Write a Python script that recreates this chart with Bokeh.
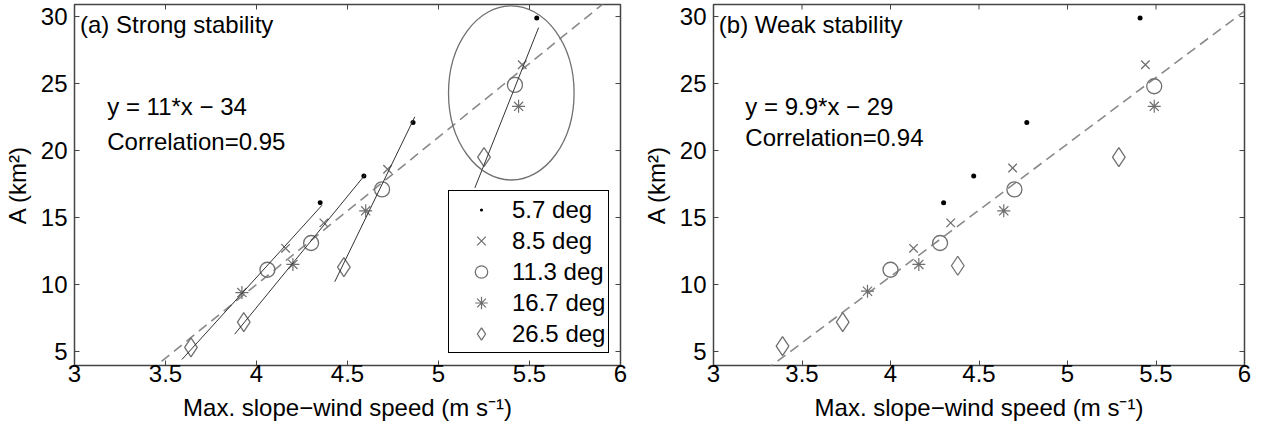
import numpy as np
from bokeh.plotting import figure
from bokeh.models import (Range1d, FixedTicker, NumeralTickFormatter,
                          Legend, LegendItem, Label)
from bokeh.layouts import row
from bokeh.embed import file_html
from bokeh.resources import INLINE

# ---------------- data ----------------
angles = ["5.7 deg", "8.5 deg", "11.3 deg", "16.7 deg", "26.5 deg"]

# (a) Strong stability: max slope-wind speed (m/s) and area A (km2)
strong_x_57 = [4.35, 4.59, 4.86, 5.54]
strong_y_57 = [16.1, 18.1, 22.1, 29.9]
strong_x_85 = [4.16, 4.37, 4.72, 5.46]
strong_y_85 = [12.7, 14.6, 18.6, 26.4]
strong_x_113 = [4.06, 4.30, 4.69, 5.42]
strong_y_113 = [11.1, 13.1, 17.1, 24.9]
strong_x_167 = [3.92, 4.20, 4.60, 5.44]
strong_y_167 = [9.4, 11.5, 15.5, 23.3]
strong_x_265 = [3.64, 3.93, 4.48, 5.25]
strong_y_265 = [5.3, 7.2, 11.3, 19.5]

# (b) Weak stability
weak_x_57 = [4.30, 4.47, 4.77, 5.41]
weak_y_57 = [16.1, 18.1, 22.1, 29.9]
weak_x_85 = [4.13, 4.34, 4.69, 5.44]
weak_y_85 = [12.7, 14.6, 18.7, 26.4]
weak_x_113 = [4.00, 4.28, 4.70, 5.49]
weak_y_113 = [11.1, 13.1, 17.1, 24.8]
weak_x_167 = [3.87, 4.16, 4.64, 5.49]
weak_y_167 = [9.5, 11.5, 15.5, 23.3]
weak_x_265 = [3.39, 3.73, 4.38, 5.29]
weak_y_265 = [5.4, 7.2, 11.4, 19.5]

# overall linear fits (slope, intercept) and correlations
fit_strong = [11.0, -34.0]
fit_weak = [9.9, -29.0]
corr_strong = "0.95"
corr_weak = "0.94"

# highlighted group ellipse (centre x, centre y, width, height) in data units
ellipse_strong = [5.40, 24.3, 0.69, 13.0]

x_ticks = [3, 3.5, 4, 4.5, 5, 5.5, 6]
y_ticks = [5, 10, 15, 20, 25, 30]

strong_x = [strong_x_57, strong_x_85, strong_x_113, strong_x_167, strong_x_265]
strong_y = [strong_y_57, strong_y_85, strong_y_113, strong_y_167, strong_y_265]
weak_x = [weak_x_57, weak_x_85, weak_x_113, weak_x_167, weak_x_265]
weak_y = [weak_y_57, weak_y_85, weak_y_113, weak_y_167, weak_y_265]

# ---------------- styles ----------------
FONT = "Liberation Sans"
FS = "24px"
GRAY = "#707070"
AX = "#444444"
X0, X1 = 3.0, 6.0
Y0, Y1 = 3.955, 30.9
FRAME_H = 361
TICK = 5  # px, inward

marker_styles = [
    dict(marker="dot", size=20, line_color="black", fill_color="black"),
    dict(marker="x", size=12, fill_color=None, line_color=GRAY, line_width=1.3),
    dict(marker="circle", size=15, fill_color=None, line_color=GRAY, line_width=1.3),
    dict(marker="asterisk", size=13, fill_color=None, line_color=GRAY, line_width=1.2),
    dict(marker="diamond", size=19, fill_color=None, line_color=GRAY, line_width=1.3),
]


def make_panel(xs, ys, fit, corr, title, frame_w, border_l, border_r, corr_y):
    p = figure(frame_width=frame_w, frame_height=FRAME_H, output_backend="svg",
               toolbar_location=None, x_range=Range1d(X0, X1), y_range=Range1d(Y0, Y1),
               min_border_left=border_l, min_border_right=border_r,
               min_border_top=4, min_border_bottom=10)
    p.background_fill_color = "white"
    p.border_fill_color = "white"
    p.xgrid.visible = False
    p.ygrid.visible = False
    p.outline_line_color = AX
    p.outline_line_width = 1.5

    for ax in p.xaxis + p.yaxis:
        ax.axis_line_color = None
        ax.major_tick_in = TICK
        ax.major_tick_out = 0
        ax.minor_tick_line_color = None
        ax.major_tick_line_color = AX
        ax.major_label_text_font = FONT
        ax.major_label_text_font_size = FS
        ax.major_label_text_color = "black"
        ax.axis_label_text_font = FONT
        ax.axis_label_text_font_size = FS
        ax.axis_label_text_font_style = "normal"
        ax.axis_label_text_color = "black"
        ax.formatter = NumeralTickFormatter(format="0.[0]")
    p.xaxis.ticker = FixedTicker(ticks=x_ticks)
    p.yaxis.ticker = FixedTicker(ticks=y_ticks)
    p.xaxis.axis_label = "Max. slope\u2212wind speed (m s\u207b\u00b9)"
    p.yaxis.axis_label = "A (km\u00b2)"
    p.xaxis.major_label_standoff = -1
    p.xaxis.axis_label_standoff = 9
    p.yaxis.major_label_standoff = 7
    p.yaxis.axis_label_standoff = 7

    # mirrored inner ticks on the top and right edges of the box
    dy = TICK * (Y1 - Y0) / FRAME_H
    dx = TICK * (X1 - X0) / frame_w
    p.segment(x0=x_ticks, y0=[Y1] * len(x_ticks), x1=x_ticks, y1=[Y1 - dy] * len(x_ticks),
              line_color=AX, line_width=1)
    p.segment(x0=[X1] * len(y_ticks), y0=y_ticks, x1=[X1 - dx] * len(y_ticks), y1=y_ticks,
              line_color=AX, line_width=1)

    # overall fit (dashed)
    fx = np.array([X0, X1])
    p.line(fx, fit[0] * fx + fit[1], line_color="#8a8a8a", line_width=1.6, line_dash="10 6")

    renderers = []
    for i in range(len(angles)):
        r = p.scatter(xs[i], ys[i], **marker_styles[i])
        renderers.append(r)

    lbl = dict(text_font=FONT, text_font_size=FS, text_color="black", text_baseline="middle")
    p.add_layout(Label(x=3.03, y=29.4, text=title, **lbl))
    sign = "\u2212" if fit[1] < 0 else "+"
    p.add_layout(Label(x=3.18, y=23.3, text="y = %g*x %s %g" % (fit[0], sign, abs(fit[1])), **lbl))
    p.add_layout(Label(x=3.18, y=corr_y, text="Correlation=%s" % corr, **lbl))
    return p, renderers


p1, rs1 = make_panel(strong_x, strong_y, fit_strong, corr_strong, "(a) Strong stability",
                     546, 74, 19, 20.7)
p2, rs2 = make_panel(weak_x, weak_y, fit_weak, corr_weak, "(b) Weak stability",
                     531, 72, 12, 21.0)

# group regression lines in panel (a)
for j in range(len(strong_x_57)):
    gx = np.array([strong_x[i][j] for i in range(len(angles))])
    gy = np.array([strong_y[i][j] for i in range(len(angles))])
    a, b = np.polyfit(gx, gy, 1)
    lx = np.array([gx.min() - 0.05, gx.max() + 0.01])
    p1.line(lx, a * lx + b, line_color="#333333", line_width=1)

# ellipse around the strongest group
p1.ellipse(x=[ellipse_strong[0]], y=[ellipse_strong[1]], width=[ellipse_strong[2]],
           height=[ellipse_strong[3]], fill_color=None, line_color="#707070", line_width=1.3)

legend = Legend(items=[LegendItem(label=angles[i], renderers=[rs1[i]]) for i in range(len(angles))],
                location=(374, 12), orientation="vertical",
                border_line_color="black", border_line_width=1, border_line_alpha=1,
                background_fill_color="white", background_fill_alpha=1,
                label_text_font=FONT, label_text_font_size=FS, label_text_color="black",
                glyph_width=58, glyph_height=31, label_height=31, spacing=0,
                padding=3, margin=0, label_standoff=2)
p1.add_layout(legend)

layout = row(p1, p2)
open("out.html", "w").write(file_html(layout, INLINE))
